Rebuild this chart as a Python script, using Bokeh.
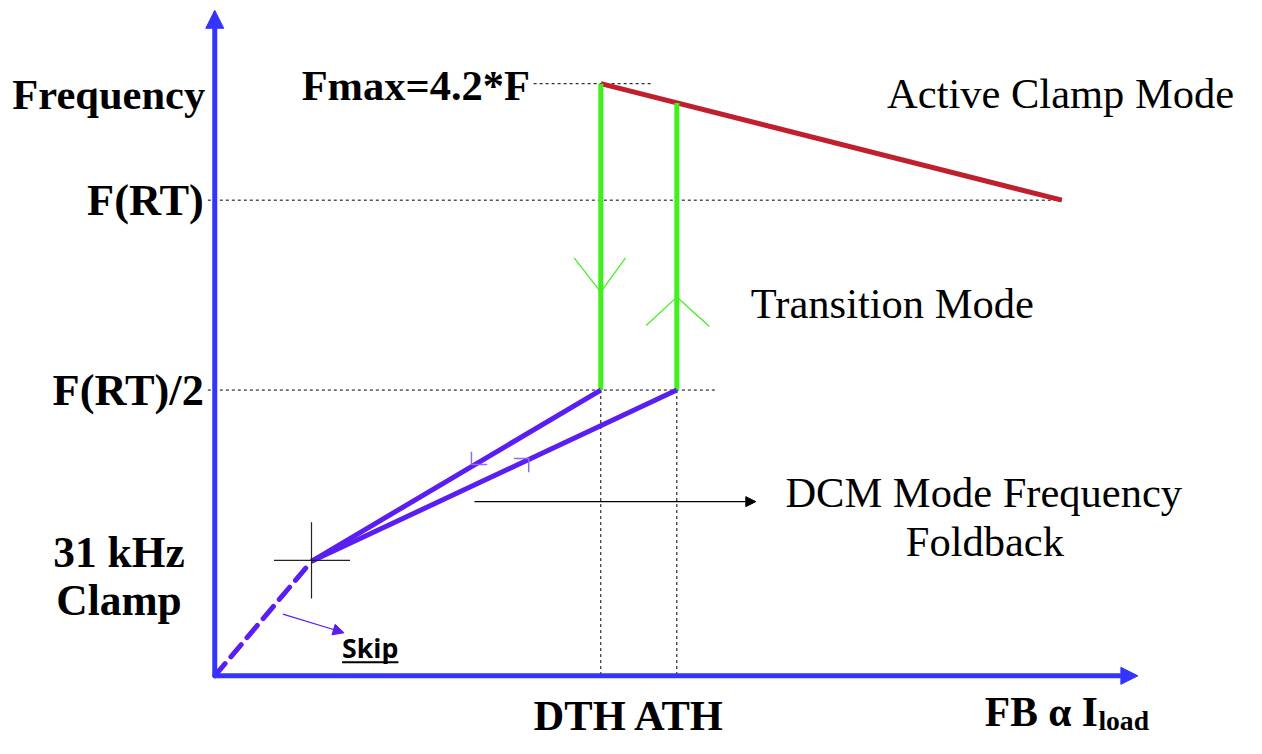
from bokeh.plotting import figure
from bokeh.models import Range1d, Arrow, NormalHead
from bokeh.core.properties import value
from bokeh.embed import file_html
from bokeh.resources import INLINE

# ---- schematic data (diagram units: origin at the axes' corner) ----
freq_levels = {"Fmax": 605, "F(RT)": 486, "F(RT)/2": 292, "clamp": 117}
level_labels = ["F(RT)", "F(RT)/2"]
load_knee = 98          # 31 kHz clamp knee
load_dth = 391          # DTH
load_ath = 468          # ATH
load_end = 858          # end of active clamp line
axis_x_max = 935
axis_y_max = 680

BLUE = "#3434ff"
PURPLE = "#5a1ef2"
GREEN = "#3ff01a"
RED = "#c0202e"
SERIF = value("Liberation Serif")

REF_W, REF_H = 1262, 754
W, H = 1246, 738
S = W / REF_W
ox, oy = 217, 690  # origin position in reference layout
p = figure(width=W, height=H, output_backend="svg", toolbar_location=None,
           x_range=Range1d(-ox, REF_W - ox), y_range=Range1d(oy - REF_H, oy),
           min_border=0)
p.axis.visible = False
p.grid.visible = False
p.outline_line_color = None

fmax = freq_levels["Fmax"]
frt = freq_levels["F(RT)"]
frt2 = freq_levels["F(RT)/2"]
fcl = freq_levels["clamp"]

def red_at(x):
    return fmax + (x - load_dth) * (frt - fmax) / (load_end - load_dth)

# dashed guide lines
p.segment(x0=[-7, -7, 323], y0=[frt, frt2, fmax], x1=[load_end, 508, 443], y1=[frt, frt2, fmax],
          line_color="black", line_width=1, line_dash="3 3")
p.segment(x0=[load_dth, load_ath], y0=[frt2, frt2], x1=[load_dth, load_ath], y1=[0, 0],
          line_color="black", line_width=1, line_dash="3 3")

# active clamp mode line
p.line([load_dth, load_end], [fmax, frt], line_color=RED, line_width=5)

# transition mode green verticals
p.segment(x0=[load_dth, load_ath], y0=[frt2, frt2], x1=[load_dth, load_ath],
          y1=[fmax, red_at(load_ath)], line_color=GREEN, line_width=5)
# chevrons
p.line([load_dth - 27, load_dth, load_dth + 25], [427, 392, 427], line_color=GREEN, line_width=1.2)
p.line([load_ath - 31, load_ath, load_ath + 33], [358, 387, 357], line_color=GREEN, line_width=1.2)

# DCM foldback lines
p.segment(x0=[load_knee, load_knee], y0=[fcl, fcl], x1=[load_dth, load_ath], y1=[frt2, frt2],
          line_color=PURPLE, line_width=5)
p.line([0, load_knee], [0, fcl], line_color=PURPLE, line_width=5, line_dash="16 9", line_cap="round")

# cross at clamp knee
p.segment(x0=[60, load_knee], y0=[fcl + 1, fcl + 40], x1=[137, load_knee], y1=[fcl + 1, fcl - 38],
          line_color="#222222", line_width=1.2)
# small ticks
p.line([260, 260, 276], [229, 216, 216], line_color="#8a6cff", line_width=1.5)
p.line([303, 318, 318], [222, 222, 208], line_color="#8a6cff", line_width=1.5)

# axes with arrowheads
p.add_layout(Arrow(x_start=0, y_start=0, x_end=0, y_end=axis_y_max, line_color=BLUE, line_width=5,
                   end=NormalHead(size=18, fill_color=BLUE, line_color=BLUE)))
p.add_layout(Arrow(x_start=0, y_start=0, x_end=axis_x_max, y_end=0, line_color=BLUE, line_width=5,
                   end=NormalHead(size=17, fill_color=BLUE, line_color=BLUE)))
# DCM pointer arrow
p.add_layout(Arrow(x_start=263, y_start=178, x_end=548, y_end=178, line_color="black", line_width=1.2,
                   end=NormalHead(size=10, fill_color="black", line_color="black")))
# Skip pointer
p.add_layout(Arrow(x_start=69, y_start=63, x_end=131, y_end=44, line_color=PURPLE, line_width=1.2,
                   end=NormalHead(size=11, fill_color=PURPLE, line_color=PURPLE)))

def txt(x, y, s, size, bold=True, align="left", baseline="middle", font=SERIF, color="black"):
    p.text(x=[x], y=[y], text=[s], text_font=font, text_font_size=f"{size * S:.1f}px",
           text_font_style="bold" if bold else "normal", text_align=align,
           text_baseline=baseline, text_color=color)

txt(-205, 594, "Frequency", 43)
txt(88, 603, "Fmax=4.2*F", 43)
txt(-11, frt, level_labels[0], 45, align="right")
txt(-11, frt2, level_labels[1], 45, align="right")
txt(-97, 127, "31 kHz", 44, align="center")
txt(-97, 78, "Clamp", 44, align="center")
txt(681, 595, "Active Clamp Mode", 43, bold=False)
txt(543, 380, "Transition Mode", 43, bold=False)
txt(578, 187, "DCM Mode Frequency", 43, bold=False)
txt(780, 137, "Foldback", 43, bold=False, align="center")
txt(420, -41, "DTH ATH", 43, align="center")
txt(780, -37, "FB \u03b1 I", 42)
txt(895, -46, "load", 28)
txt(129, 29, "Skip", 27, font=value("Open Sans"))
p.segment(x0=[129], y0=[14], x1=[186], y1=[14], line_color="black", line_width=2)

open("out.html", "w").write(file_html(p, INLINE))
